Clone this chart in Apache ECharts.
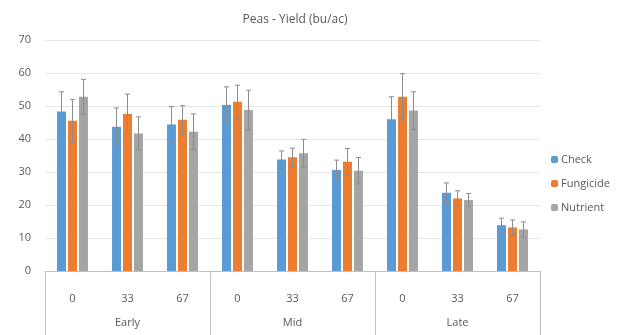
<!DOCTYPE html>
<html><head><meta charset="utf-8">
<script src="https://cdn.jsdelivr.net/npm/echarts@6/dist/echarts.min.js"></script>
<style>html,body{margin:0;padding:0;background:#fff}#c{width:636px;height:335px}</style>
</head><body><div id="c"></div>
<script>
const subCategories = ['0','33','67','0','33','67','0','33','67'];
const groups = ['Early','Mid','Late'];
const seriesNames = ['Check','Fungicide','Nutrient'];
const checkVals = [48.3, 43.7, 44.4, 50.3, 33.8, 30.6, 46.0, 23.7, 13.9];
const fungVals  = [45.5, 47.6, 45.8, 51.3, 34.5, 33.1, 52.8, 22.0, 13.2];
const nutrVals  = [52.8, 41.7, 42.2, 48.8, 35.7, 30.4, 48.6, 21.5, 12.6];
const checkErr = [6.0, 5.7, 5.4, 5.5, 2.6, 3.0, 6.8, 3.0, 2.1];
const fungErr  = [6.5, 6.0, 4.3, 5.0, 2.7, 4.0, 7.0, 2.3, 2.3];
const nutrErr  = [5.3, 5.0, 5.4, 6.0, 4.2, 4.0, 5.7, 2.0, 2.3];
const yTicks = [0, 10, 20, 30, 40, 50, 60, 70];

const colors = ['#5B9BD5','#ED7D31','#A5A5A5'];
const vals = [checkVals, fungVals, nutrVals];
const errs = [checkErr, fungErr, nutrErr];
const offsets = [-11, 0, 11];

const chart = echarts.init(document.getElementById('c'));
const series = [];
vals.forEach((v, i) => {
  series.push({
    name: seriesNames[i], type: 'bar', xAxisIndex: 0, data: v,
    barWidth: 9, barGap: '22%', itemStyle: {color: colors[i]}
  });
});
vals.forEach((v, i) => {
  const off = offsets[i];
  series.push({
    type: 'custom', xAxisIndex: 0, silent: true, z: 5,
    data: v.map((y, k) => [k, y - errs[i][k], y + errs[i][k]]),
    renderItem: function (params, api) {
      const lo = api.coord([api.value(0), api.value(1)]);
      const hi = api.coord([api.value(0), api.value(2)]);
      const x = lo[0] + off;
      const st = {stroke: '#8c8c8c', lineWidth: 1};
      return {type: 'group', children: [
        {type: 'line', shape: {x1: x, y1: lo[1], x2: x, y2: hi[1]}, style: st},
        {type: 'line', shape: {x1: x - 2.5, y1: hi[1], x2: x + 2.5, y2: hi[1]}, style: st},
        {type: 'line', shape: {x1: x - 2.5, y1: lo[1], x2: x + 2.5, y2: lo[1]}, style: st}
      ]};
    }
  });
});

chart.setOption({
  animation: false,
  title: {text: 'Peas - Yield (bu/ac)', left: 290, top: 9, textAlign: 'center',
    textStyle: {fontFamily: 'Open Sans', fontSize: 12, fontWeight: 'normal', color: '#595959'}},
  legend: {orient: 'vertical', left: 546, top: 149, itemWidth: 7, itemHeight: 7, itemGap: 13,
    data: seriesNames,
    textStyle: {fontFamily: 'Open Sans', fontSize: 11, color: '#595959', padding: [0,0,0,-2]}},
  grid: {left: 45, right: 96, top: 40, bottom: 64},
  xAxis: [
    {type: 'category', data: subCategories, position: 'bottom',
      axisLine: {show: true, lineStyle: {color: '#bfbfbf'}},
      axisTick: {show: false},
      axisLabel: {margin: 22, fontFamily: 'Open Sans', fontSize: 11, color: '#595959'}},
    {type: 'category', data: groups, position: 'bottom',
      axisLine: {show: false},
      axisTick: {show: true, length: 64, lineStyle: {color: '#bfbfbf'}},
      axisLabel: {margin: 46, fontFamily: 'Open Sans', fontSize: 11, color: '#595959'}}
  ],
  yAxis: {type: 'value', min: yTicks[0], max: yTicks[yTicks.length-1], interval: 10,
    axisLine: {show: false}, axisTick: {show: false},
    axisLabel: {margin: 14, fontFamily: 'Open Sans', fontSize: 11, color: '#595959'},
    splitLine: {lineStyle: {color: '#e6e6e6'}}},
  series: series
});
</script></body></html>
